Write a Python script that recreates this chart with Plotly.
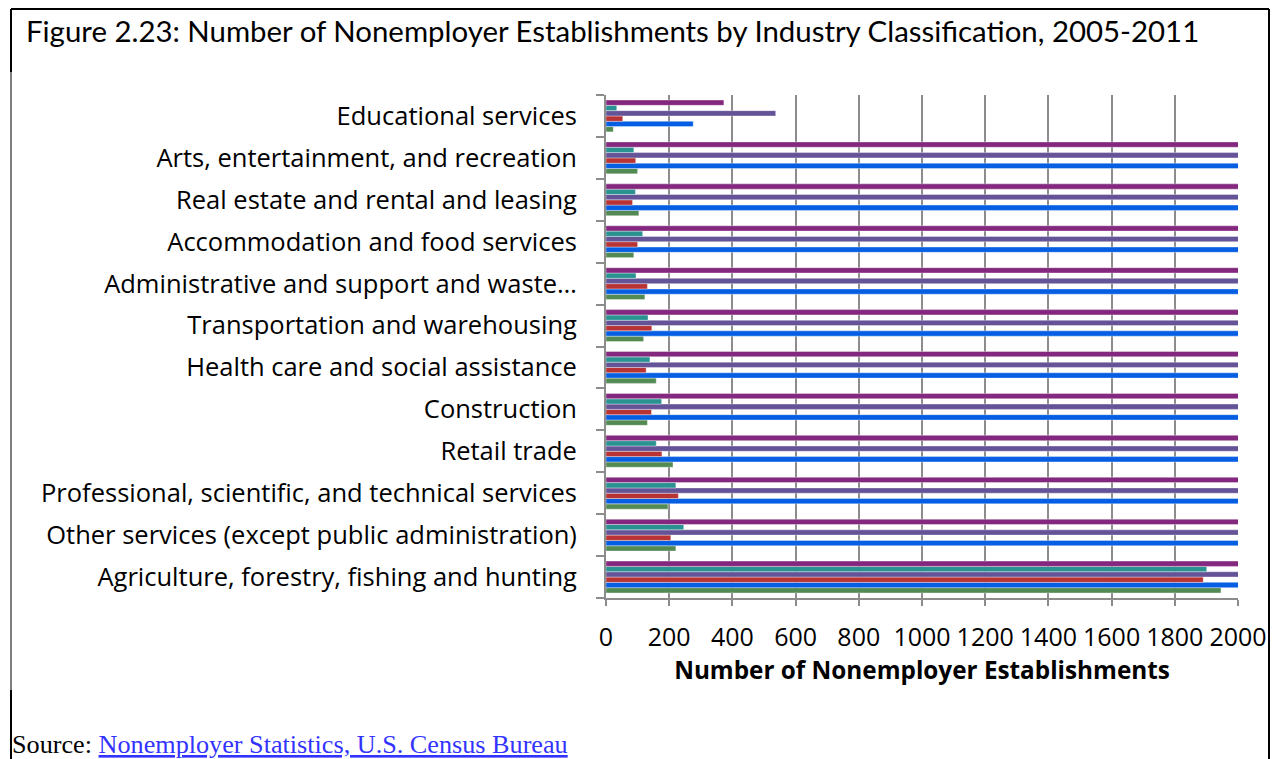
import plotly.graph_objects as go

categories = [
    "Agriculture, forestry, fishing and hunting",
    "Other services (except public administration)",
    "Professional, scientific, and technical services",
    "Retail trade",
    "Construction",
    "Health care and social assistance",
    "Transportation and warehousing",
    "Administrative and support and waste…",
    "Accommodation and food services",
    "Real estate and rental and leasing",
    "Arts, entertainment, and recreation",
    "Educational services",
]

series_names = ["2006", "2007", "2008", "2009", "2010", "2011"]

# bottom-to-top within each group: green, blue, red, violet, teal, purple
s_green = [1946, 221, 196, 212, 131, 159, 119, 123, 88, 104, 100, 23]
s_blue = [2600, 2400, 2500, 2450, 2550, 2350, 2300, 2250, 2200, 2350, 2150, 276]
s_red = [1890, 205, 229, 177, 144, 127, 145, 131, 100, 84, 94, 53]
s_violet = [2650, 2450, 2550, 2500, 2600, 2400, 2350, 2300, 2250, 2400, 2200, 537]
s_teal = [1901, 246, 221, 159, 176, 139, 133, 95, 116, 93, 88, 34]
s_purple = [2700, 2500, 2600, 2550, 2650, 2450, 2400, 2350, 2300, 2450, 2250, 373]

series_values = [s_green, s_blue, s_red, s_violet, s_teal, s_purple]
colors = ["#538A53", "#065FE3", "#B83333", "#655397", "#2B9292", "#84287F"]

x_ticks = list(range(0, 2001, 200))

fig = go.Figure()
for name, vals, col in zip(series_names, series_values, colors):
    fig.add_trace(go.Bar(
        y=categories, x=vals, name=name, orientation="h",
        marker=dict(color=col, line=dict(color="rgba(255,255,255,0.6)", width=0.6)),
        cliponaxis=True,
    ))

W, H = 1272, 759
PL, PR, PT, PB = 606, 1238, 95, 598  # plot area in pixels
L, R, T, B = PL, W - PR, PT, H - PB
pw, ph = W - L - R, H - T - B

def px(x):
    return (x - L) / pw

def py(y):
    return (H - B - y) / ph

fig.update_layout(
    width=W, height=H,
    margin=dict(l=L, r=R, t=T, b=B),
    barmode="group", bargap=0.24, bargroupgap=0.0,
    plot_bgcolor="white", paper_bgcolor="white",
    showlegend=False,
    font=dict(family="Open Sans", size=22, color="black"),
    xaxis=dict(
        range=[0, 2000], tickvals=x_ticks, ticktext=[str(v) for v in x_ticks],
        automargin=False,
        showgrid=True, gridcolor="#8C8C8C", gridwidth=2,
        showline=True, linecolor="#8C8C8C", linewidth=2,
        ticks="outside", ticklen=6, tickcolor="#8C8C8C", tickwidth=2,
        tickfont=dict(family="Open Sans", size=25, color="black"),
        ticklabelstandoff=10,
        zeroline=False,
        title=dict(text="<b>Number of Nonemployer Establishments</b>",
                   font=dict(family="Open Sans", size=24.3, color="black"), standoff=6),
    ),
    yaxis=dict(
        categoryorder="array", categoryarray=categories,
        automargin=False,
        showline=True, linecolor="#8C8C8C", linewidth=2,
        ticks="outside", ticklen=8, tickcolor="#8C8C8C", tickwidth=2,
        tickson="boundaries", showgrid=False,
        tickfont=dict(family="Open Sans", size=25.5, color="black"),
        ticklabelstandoff=22,
    ),
)

fig.add_annotation(
    xref="paper", yref="paper", x=px(24), y=py(30), xanchor="left", yanchor="middle",
    text="Figure 2.23: Number of Nonemployer Establishments by Industry Classification, 2005-2011",
    showarrow=False, font=dict(family="Lato", size=29.4, color="black"),
)
fig.add_annotation(
    xref="paper", yref="paper", x=px(10), y=py(744), xanchor="left", yanchor="middle",
    text="Source: <a href='https://www.census.gov/econ/nonemployer/'><span style='color:#3333FF;text-decoration:underline'>Nonemployer Statistics, U.S. Census Bureau</span></a>",
    showarrow=False, font=dict(family="Liberation Serif", size=26.2, color="black"),
)

# frame
frame = [
    (11, 9, 1269, 9, 2),
    (11, 9, 11, 72, 2),
    (11, 72, 11, 690, 1),
    (11, 690, 11, 759, 2),
    (1269, 9, 1269, 759, 2),
]
for x0, y0, x1, y1, w in frame:
    fig.add_shape(type="line", xref="paper", yref="paper",
                  x0=px(x0), y0=py(y0), x1=px(x1), y1=py(y1),
                  line=dict(color="black", width=w))

fig.write_html(
    "out.html",
    config={"displayModeBar": False},
    post_script="document.body.style.margin='0';document.body.style.overflow='hidden';",
)
